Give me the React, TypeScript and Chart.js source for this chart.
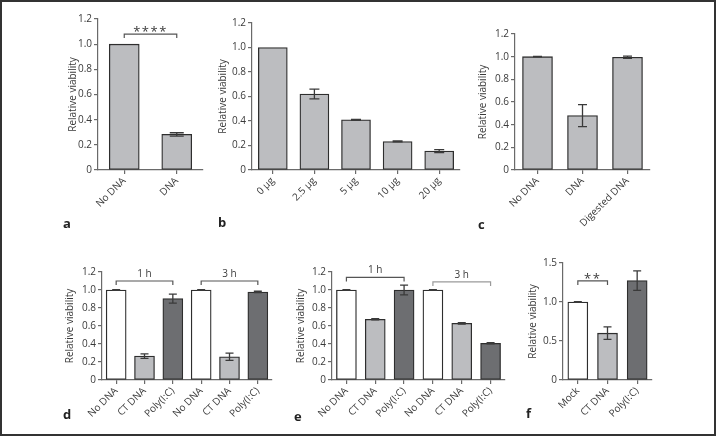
import React, { useEffect, useRef } from "react";
import { Chart, registerables } from "chart.js";

Chart.register(...registerables);

const FONT_FAMILY = "'Open Sans', 'DejaVu Sans', sans-serif";
Chart.defaults.font.family = FONT_FAMILY;

// ---------------- data ----------------
const yTitle = "Relative viability";

const aCategories = ["No DNA", "DNA"];
const aValues = [1.0, 0.283];
const aErrors = [0.0, 0.013];

const bCategories = ["0 µg", "2.5 µg", "5 µg", "10 µg", "20 µg"];
const bValues = [1.0, 0.62, 0.41, 0.233, 0.155];
const bErrors = [0.0, 0.04, 0.004, 0.004, 0.012];

const cCategories = ["No DNA", "DNA", "Digested DNA"];
const cValues = [1.0, 0.48, 0.995];
const cErrors = [0.002, 0.097, 0.01];

const dCategories = ["No DNA", "CT DNA", "Poly(I:C)", "No DNA", "CT DNA", "Poly(I:C)"];
const dValues = [1.0, 0.265, 0.905, 1.0, 0.258, 0.978];
const dErrors = [0.003, 0.025, 0.05, 0.003, 0.04, 0.008];

const eCategories = ["No DNA", "CT DNA", "Poly(I:C)", "No DNA", "CT DNA", "Poly(I:C)"];
const eValues = [1.0, 0.675, 1.0, 1.0, 0.63, 0.408];
const eErrors = [0.003, 0.008, 0.055, 0.003, 0.008, 0.006];

const fCategories = ["Mock", "CT DNA", "Poly(I:C)"];
const fValues = [1.0, 0.6, 1.275];
const fErrors = [0.004, 0.08, 0.125];

const aBrackets = [{ from: 0, to: 1, at: 1.08, label: "****" }];
const dBrackets = [
  { from: 0, to: 2, at: 1.1, label: "1 h" },
  { from: 3, to: 5, at: 1.1, label: "3 h" },
];
const eBrackets = [
  { from: 0, to: 2, at: 1.14, label: "1 h" },
  { from: 3, to: 5, at: 1.09, label: "3 h", grey: true },
];
const fBrackets = [{ from: 0, to: 1, at: 1.27, label: "**" }];

// ---------------- styles ----------------
const LIGHT = "#bcbdc0";
const DARK = "#6d6e71";
const WHITE = "#ffffff";
const AXIS = "#6a6a6a";
const TEXT = "#3a3a3a";
const EDGE = "#2e2e2e";

const overlayPlugin = {
  id: "overlay",
  afterDatasetsDraw(chart: any, _args: any, opts: any) {
    const { ctx } = chart;
    const meta = chart.getDatasetMeta(0);
    const ys = chart.scales.y;
    const values = chart.data.datasets[0].data as number[];
    const errs: number[] = opts.errors || [];
    const cap = opts.capWidth || 10;
    ctx.save();
    ctx.strokeStyle = "#3a3a3a";
    ctx.lineWidth = 1.3;
    meta.data.forEach((bar: any, i: number) => {
      const e = errs[i];
      if (!e) return;
      const v = values[i];
      const x = bar.x;
      const yHi = ys.getPixelForValue(v + e);
      const yLo = ys.getPixelForValue(v - e);
      ctx.beginPath();
      ctx.moveTo(x, yHi);
      ctx.lineTo(x, yLo);
      ctx.moveTo(x - cap / 2, yHi);
      ctx.lineTo(x + cap / 2, yHi);
      ctx.moveTo(x - cap / 2, yLo);
      ctx.lineTo(x + cap / 2, yLo);
      ctx.stroke();
    });
    const brackets = opts.brackets || [];
    brackets.forEach((b: any) => {
      const x1 = meta.data[b.from].x;
      const x2 = meta.data[b.to].x;
      const y = ys.getPixelForValue(b.at);
      ctx.strokeStyle = b.grey ? "#9a9a9a" : "#555";
      ctx.lineWidth = 1.2;
      ctx.beginPath();
      ctx.moveTo(x1, y + 4);
      ctx.lineTo(x1, y);
      ctx.lineTo(x2, y);
      ctx.lineTo(x2, y + 4);
      ctx.stroke();
      const stars = b.label.indexOf("*") >= 0;
      ctx.fillStyle = TEXT;
      ctx.textAlign = "center";
      ctx.textBaseline = "alphabetic";
      ctx.font = `${stars ? 13 : 10}px ${FONT_FAMILY}`;
      (ctx as any).letterSpacing = stars ? "1.5px" : "0px";
      ctx.fillText(b.label, (x1 + x2) / 2, stars ? y + 2 : y - 4);
    });
    ctx.restore();
  },
};

type Spec = {
  box: { left: number; top: number; width: number; height: number };
  axisX: number;
  y0: number;
  yTop: number;
  xRight: number;
  titleX: number;
  labels: string[];
  values: number[];
  errors: number[];
  colors: string[];
  yMax: number;
  yStep: number;
  barThickness: number;
  capWidth: number;
  brackets?: any[];
};

function Panel({ spec }: { spec: Spec }) {
  const ref = useRef<HTMLCanvasElement>(null);
  useEffect(() => {
    const s = spec;
    const yAxisWidth = s.axisX - s.box.left;
    const padTop = s.yTop - s.box.top;
    const xAxisHeight = s.box.top + s.box.height - s.y0;
    const padRight = s.box.left + s.box.width - s.xRight;
    const titlePad = s.titleX - s.box.left - 6;
    const chart = new Chart(ref.current as HTMLCanvasElement, {
      type: "bar",
      data: {
        labels: s.labels,
        datasets: [
          {
            data: s.values,
            backgroundColor: s.colors,
            borderColor: EDGE,
            borderWidth: 1.3,
            borderSkipped: false,
            barThickness: s.barThickness,
          } as any,
        ],
      },
      plugins: [overlayPlugin as any],
      options: {
        responsive: false,
        animation: false,
        layout: { padding: { top: padTop, right: padRight, left: 0, bottom: 0 } },
        plugins: {
          legend: { display: false },
          tooltip: { enabled: false },
          overlay: { errors: s.errors, brackets: s.brackets, capWidth: s.capWidth },
        } as any,
        scales: {
          x: {
            type: "category",
            offset: true,
            grid: {
              display: true,
              drawOnChartArea: false,
              drawTicks: true,
              tickLength: 4,
              offset: false,
              color: AXIS,
              lineWidth: 1.2,
            },
            border: { display: true, color: AXIS, width: 1.2 },
            ticks: {
              minRotation: 45,
              maxRotation: 45,
              autoSkip: false,
              color: TEXT,
              font: { size: 10, family: FONT_FAMILY },
              padding: 1,
            },
            afterFit: (sc: any) => {
              sc.height = xAxisHeight;
            },
          },
          y: {
            min: 0,
            max: s.yMax,
            grid: {
              display: true,
              drawOnChartArea: false,
              drawTicks: true,
              tickLength: 4,
              color: AXIS,
              lineWidth: 1.2,
            },
            border: { display: true, color: AXIS, width: 1.2 },
            ticks: {
              stepSize: s.yStep,
              color: TEXT,
              font: { size: 10, family: FONT_FAMILY },
              padding: 2,
              callback: (v: any) => (Number(v) === 0 ? "0" : Number(v).toFixed(1)),
            },
            title: {
              display: true,
              text: yTitle,
              color: TEXT,
              font: { size: 10, family: FONT_FAMILY },
              padding: { top: titlePad, bottom: 0 },
            },
            afterFit: (sc: any) => {
              sc.width = yAxisWidth;
            },
          },
        },
      } as any,
    });
    return () => chart.destroy();
  }, []);
  const b = spec.box;
  return (
    <canvas
      ref={ref}
      width={b.width}
      height={b.height}
      style={{ position: "absolute", left: b.left, top: b.top, width: b.width, height: b.height }}
    />
  );
}

const specs: Spec[] = [
  {
    box: { left: 45, top: 0, width: 165, height: 230 },
    axisX: 98, y0: 170, yTop: 19, xRight: 203, titleX: 73,
    labels: aCategories, values: aValues, errors: aErrors,
    colors: [LIGHT, LIGHT], yMax: 1.2, yStep: 0.2, barThickness: 30, capWidth: 14,
    brackets: aBrackets,
  },
  {
    box: { left: 205, top: 0, width: 262, height: 230 },
    axisX: 252, y0: 170, yTop: 23, xRight: 460, titleX: 223,
    labels: bCategories, values: bValues, errors: bErrors,
    colors: bValues.map(() => LIGHT), yMax: 1.2, yStep: 0.2, barThickness: 29, capWidth: 10,
  },
  {
    box: { left: 470, top: 0, width: 190, height: 232 },
    axisX: 515, y0: 170, yTop: 34, xRight: 650, titleX: 483,
    labels: cCategories, values: cValues, errors: cErrors,
    colors: cValues.map(() => LIGHT), yMax: 1.2, yStep: 0.2, barThickness: 30, capWidth: 9,
  },
  {
    box: { left: 55, top: 240, width: 225, height: 195 },
    axisX: 102, y0: 380, yTop: 272, xRight: 272, titleX: 70,
    labels: dCategories, values: dValues, errors: dErrors,
    colors: [WHITE, LIGHT, DARK, WHITE, LIGHT, DARK], yMax: 1.2, yStep: 0.2, barThickness: 20, capWidth: 8,
    brackets: dBrackets,
  },
  {
    box: { left: 285, top: 240, width: 225, height: 195 },
    axisX: 332, y0: 380, yTop: 272, xRight: 505, titleX: 301,
    labels: eCategories, values: eValues, errors: eErrors,
    colors: [WHITE, LIGHT, DARK, WHITE, LIGHT, DARK], yMax: 1.2, yStep: 0.2, barThickness: 20, capWidth: 8,
    brackets: eBrackets,
  },
  {
    box: { left: 515, top: 240, width: 145, height: 195 },
    axisX: 563, y0: 380, yTop: 263, xRight: 652, titleX: 533,
    labels: fCategories, values: fValues, errors: fErrors,
    colors: [WHITE, LIGHT, DARK], yMax: 1.5, yStep: 0.5, barThickness: 20, capWidth: 8,
    brackets: fBrackets,
  },
];

const panelLetters = [
  { t: "a", x: 67, y: 225 },
  { t: "b", x: 222, y: 224 },
  { t: "c", x: 482, y: 226 },
  { t: "d", x: 67, y: 416 },
  { t: "e", x: 298, y: 418 },
  { t: "f", x: 530, y: 415 },
];

export default function App() {
  useEffect(() => {
    document.body.style.margin = "0";
  }, []);
  return (
    <div style={{ position: "relative", width: 716, height: 436, background: "#fff", overflow: "hidden" }}>
      {specs.map((s, i) => (
        <Panel key={i} spec={s} />
      ))}
      {panelLetters.map((l) => (
        <div
          key={l.t}
          style={{
            position: "absolute",
            left: l.x - 4,
            top: l.y - 9,
            fontFamily: FONT_FAMILY,
            fontWeight: 700,
            fontSize: 13,
            lineHeight: "14px",
            color: "#222",
          }}
        >
          {l.t}
        </div>
      ))}
      <div
        style={{
          position: "absolute",
          left: 0,
          top: 0,
          width: 716,
          height: 436,
          boxSizing: "border-box",
          border: "2px solid #333",
          pointerEvents: "none",
        }}
      />
    </div>
  );
}
